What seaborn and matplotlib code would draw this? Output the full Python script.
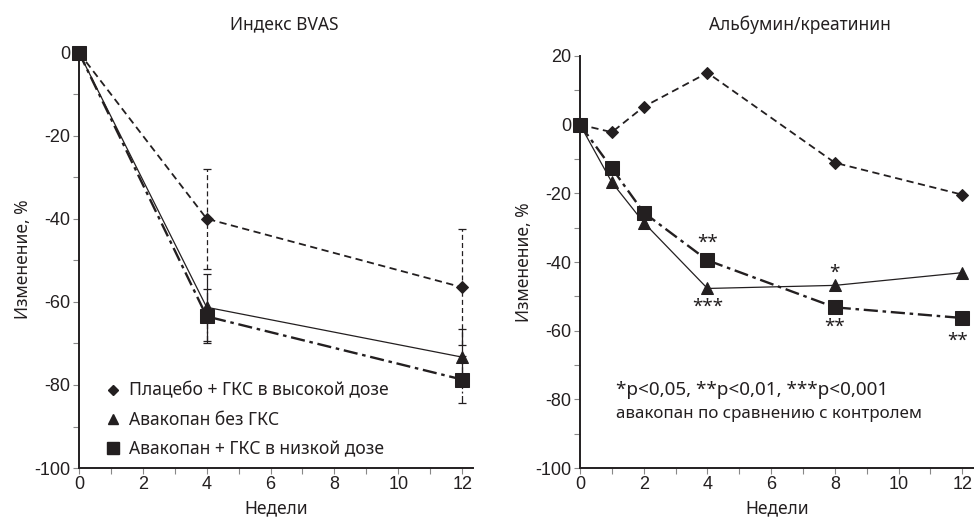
import matplotlib
matplotlib.use("Agg")
import matplotlib.pyplot as plt
import seaborn as sns
import pandas as pd
from matplotlib.lines import Line2D
from matplotlib.ticker import MultipleLocator

# --- данные: индекс BVAS ---
bvas_weeks = [0, 4, 12]
bvas_placebo = [0, -40, -56.5]
bvas_placebo_err = [0, 12, 14]
bvas_noGKS = [0, -61.3, -73.3]
bvas_noGKS_err = [0, 8, 6.8]
bvas_lowGKS = [0, -63.5, -78.7]
bvas_lowGKS_err = [0, 6.5, 5.6]

# --- данные: альбумин/креатинин ---
acr_weeks = [0, 1, 2, 4, 8, 12]
acr_placebo = [0, -2.2, 5.2, 15.1, -11.1, -20.4]
acr_noGKS = [0, -16.8, -28.5, -47.7, -46.8, -43.1]
acr_lowGKS = [0, -12.7, -25.6, -39.5, -53.2, -56.3]

# звёздочки значимости: (неделя, y, текст)
star_x = [4, 4, 8, 8, 11.85]
star_y = [-34.5, -53, -43, -58.8, -62.8]
star_txt = ["**", "***", "*", "**", "**"]

labels = ["Плацебо + ГКС в высокой дозе", "Авакопан без ГКС", "Авакопан + ГКС в низкой дозе"]

sns.set_theme(style="white")
plt.rcParams['font.family'] = ['Liberation Sans', 'DejaVu Sans']
plt.rcParams['axes.unicode_minus'] = False
txt_font = ['Noto Sans', 'DejaVu Sans']
dark = "#231f20"

# стиль каждой группы: маркер, размер, линия, толщина
styles = [
    dict(marker="D", ms=6, ls=(0, (4, 2.5)), lw=1.3),
    dict(marker="^", ms=8.5, ls="-", lw=0.9),
    dict(marker="s", ms=9.5, ls=(0, (6, 2, 1.5, 2)), lw=1.7),
]

fig = plt.figure(figsize=(9.74, 5.23), dpi=100)
ax1 = fig.add_axes([0.081, 0.105, 0.405, 0.797])
ax2 = fig.add_axes([0.5955, 0.105, 0.404, 0.788])


def draw(ax, weeks, series, errs=None):
    for i, ys in enumerate(series):
        st = styles[i]
        df = pd.DataFrame({"w": weeks, "v": ys})
        sns.lineplot(data=df, x="w", y="v", ax=ax, color=dark, linestyle=st["ls"],
                     linewidth=st["lw"], marker=st["marker"], markersize=st["ms"],
                     markeredgecolor=dark, markerfacecolor=dark, clip_on=False, zorder=3)
        if errs is not None:
            eb = ax.errorbar(weeks[1:], ys[1:], yerr=errs[i][1:], fmt="none", ecolor=dark,
                             elinewidth=0.9, capsize=3, capthick=0.9, zorder=2)
            for c in eb[2]:
                c.set_linestyle(st["ls"] if i != 1 else "-")


def style_axes(ax, ymin, ymax):
    ax.set_xlim(0, 12.35)
    ax.set_ylim(ymin, ymax)
    ax.set_xticks(range(0, 13, 2))
    ax.xaxis.set_minor_locator(MultipleLocator(1))
    ax.yaxis.set_major_locator(MultipleLocator(20))
    ax.yaxis.set_minor_locator(MultipleLocator(10))
    for s in ["top", "right"]:
        ax.spines[s].set_visible(False)
    for s in ["left", "bottom"]:
        ax.spines[s].set_color(dark)
        ax.spines[s].set_linewidth(1.4)
    ax.tick_params(which="both", direction="out", color="#888888", width=0.8,
                   left=True, bottom=True)
    ax.tick_params(which="major", length=4, labelsize=13, labelcolor=dark, pad=2)
    ax.tick_params(which="minor", length=4)
    ax.set_xlabel("Недели", fontsize=12.5, family=txt_font, color=dark, labelpad=4)
    ax.set_ylabel("Изменение, %", fontsize=12.5, family=txt_font, color=dark, labelpad=2)


draw(ax1, bvas_weeks, [bvas_placebo, bvas_noGKS, bvas_lowGKS],
     [bvas_placebo_err, bvas_noGKS_err, bvas_lowGKS_err])
style_axes(ax1, -100, 0.3)
ax1.text(0.52, 1.065, "Индекс BVAS", transform=ax1.transAxes, ha="center", va="center",
         fontsize=12.5, family=txt_font, color=dark)

handles = [Line2D([], [], color=dark, linestyle="none", marker=st["marker"],
                  markersize=st["ms"] * 0.9) for st in styles]
ax1.legend(handles, labels, loc="lower left", bbox_to_anchor=(0.03, -0.014), frameon=False,
           prop=dict(family=txt_font, size=12.6), handlelength=0.8, handletextpad=0.5,
           labelspacing=0.64, labelcolor=dark)

draw(ax2, acr_weeks, [acr_placebo, acr_noGKS, acr_lowGKS])
style_axes(ax2, -100, 20)
ax2.text(0.56, 1.075, "Альбумин/креатинин", transform=ax2.transAxes, ha="center", va="center",
         fontsize=12.5, family=txt_font, color=dark)
for x, y, t in zip(star_x, star_y, star_txt):
    ax2.text(x, y, t, ha="center", va="center", fontsize=13.5, family=txt_font, color=dark)
ax2.text(1.13, -77.2, "*p<0,05, **p<0,01, ***p<0,001", ha="left", va="center",
         fontsize=13.6, family=txt_font, color=dark)
ax2.text(1.13, -84.3, "авакопан по сравнению с контролем", ha="left", va="center",
         fontsize=12.2, family=txt_font, color=dark)

fig.savefig("out.png", dpi=100)
